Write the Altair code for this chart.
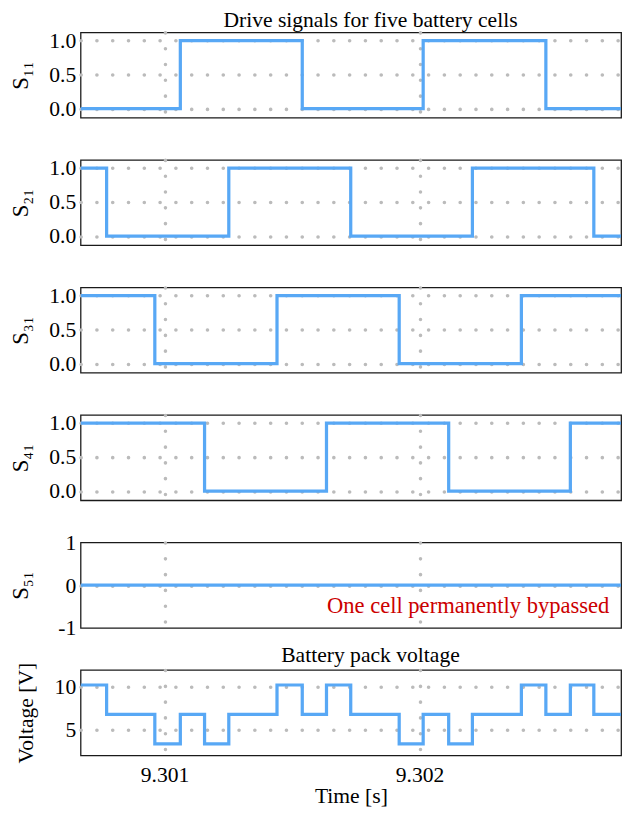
import altair as alt
import pandas as pd

T0 = 9.300671
T1 = 9.302790

# switching instants [s] and signal states
s11_time = [9.300671, 9.301062, 9.301540, 9.302014, 9.302495, 9.302790]
s11_val = [0, 1, 0, 1, 0, 0]
s21_time = [9.300671, 9.300773, 9.301252, 9.301730, 9.302207, 9.302683, 9.302790]
s21_val = [1, 0, 1, 0, 1, 0, 0]
s31_time = [9.300671, 9.300962, 9.301441, 9.301920, 9.302399, 9.302790]
s31_val = [1, 0, 1, 0, 1, 1]
s41_time = [9.300671, 9.301157, 9.301635, 9.302114, 9.302591, 9.302790]
s41_val = [1, 0, 1, 0, 1, 1]
s51_time = [9.300671, 9.302790]
s51_val = [0, 0]
v_time = [9.300671, 9.300773, 9.300962, 9.301062, 9.301157, 9.301252, 9.301441,
          9.301540, 9.301635, 9.301730, 9.301920, 9.302014, 9.302114, 9.302207,
          9.302399, 9.302495, 9.302591, 9.302683, 9.302790]
v_val = [10.2, 6.8, 3.4, 6.8, 3.4, 6.8, 10.2, 6.8, 10.2, 6.8, 3.4, 6.8, 3.4, 6.8,
         10.2, 6.8, 10.2, 6.8, 6.8]

x_ticks = [9.301, 9.302]
s_ticks = [0, 0.5, 1]
s5_ticks = [-1, 0, 1]
v_ticks = [5, 10]

FONT = "Liberation Serif"
LINE = "#58a8f5"
W, H = 551, 87

def panel(time, val, ytitle, yticks, ydomain, bottom=False, title=None, fmt=".1f",
          title_x=-49, title_size=23, grid_test=None, toffset=-2, label_expr=None):
    df = pd.DataFrame({"t": time, "v": val})
    if bottom:
        xaxis = alt.Axis(values=x_ticks, format=".3f", ticks=False, domain=False,
                         labelPadding=10, title="Time [s]", titlePadding=0,
                         titleFontSize=22, labelFontSize=22)
    else:
        xaxis = alt.Axis(values=x_ticks, labels=False, ticks=False, domain=False,
                         title="")
    yargs = dict(values=yticks, format=fmt, ticks=False, domain=False, labelPadding=5,
                 title=ytitle, titleX=title_x, titleFontSize=title_size,
                 labelFontSize=22, labelOverlap=False)
    if label_expr:
        yargs["labelExpr"] = label_expr
    if grid_test:
        yargs["gridOpacity"] = {"condition": {"test": grid_test, "value": 1}, "value": 0}
    line = alt.Chart(df).mark_line(
        interpolate="step-after", color=LINE, strokeWidth=3.3, clip=True
    ).encode(
        x=alt.X("t:Q", scale=alt.Scale(domain=[T0, T1], nice=False, zero=False), axis=xaxis),
        y=alt.Y("v:Q", scale=alt.Scale(domain=ydomain, nice=False, zero=False),
                axis=alt.Axis(**yargs)),
    )
    props = dict(width=W, height=H)
    if title:
        props["title"] = alt.TitleParams(title, fontSize=22, font=FONT, fontWeight="normal",
                                         dx=20, offset=toffset, color="black")
    return line, props

sd = [-0.135, 1.12]
l1, p1 = panel(s11_time, s11_val, "S₁₁", s_ticks, sd, title="Drive signals for five battery cells")
l2, p2 = panel(s21_time, s21_val, "S₂₁", s_ticks, sd)
l3, p3 = panel(s31_time, s31_val, "S₃₁", s_ticks, sd)
l4, p4 = panel(s41_time, s41_val, "S₄₁", s_ticks, sd)
l5, p5 = panel(s51_time, s51_val, "S₅₁", s5_ticks, [-1, 1], fmt=".0f",
               grid_test="datum.value == 0",
               label_expr="datum.value < 0 ? '-1' : datum.label")
l6, p6 = panel(v_time, v_val, "Voltage [V]", v_ticks, [2.08, 11.93], bottom=True,
               title="Battery pack voltage", fmt="d", title_x=-44, title_size=22,
               toffset=-5)

note = alt.Chart(pd.DataFrame({"a": [0]})).mark_text(
    align="right", baseline="alphabetic", color="#cc0000", fontSize=23, font=FONT
).encode(x=alt.value(539), y=alt.value(72),
         text=alt.value("One cell permanently bypassed"))

c1 = l1.properties(**p1)
c2 = l2.properties(**p2)
c3 = l3.properties(**p3)
c4 = l4.properties(**p4)
c5 = alt.layer(l5, note).properties(**p5)
c6 = l6.properties(**p6)

chart = alt.vconcat(c1, c2, c3, c4, c5, c6, spacing=43, bounds="flush").properties(
    padding={"left": 1, "top": -8, "right": 5, "bottom": 2}
).configure(font=FONT).configure_view(
    stroke="#1a1a1a", strokeWidth=1.3
).configure_axis(
    labelFont=FONT, titleFont=FONT, labelColor="black", titleColor="black",
    titleFontWeight="normal", gridColor="#bbbbbb", gridDash=[0.1, 16], gridCap="round",
    gridWidth=3.6
)

chart.save("out.html", embed_options={"renderer": "svg", "actions": False})
